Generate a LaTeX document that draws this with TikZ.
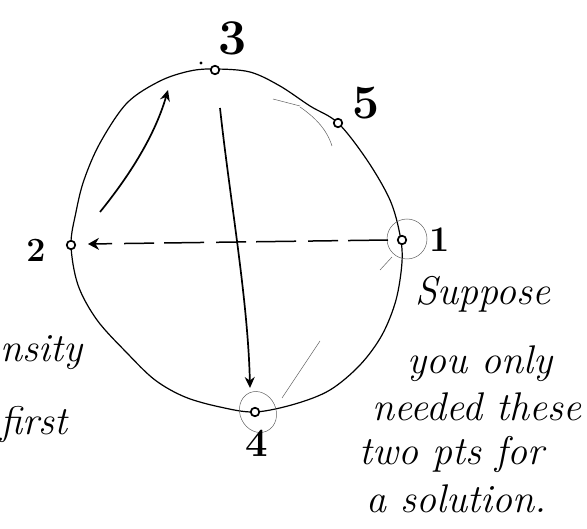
\documentclass[tikz,border=0pt]{standalone}
\usepackage{fontspec}
\setmainfont{Latin Modern Roman}
\usetikzlibrary{arrows.meta}
\begin{document}
\begin{tikzpicture}[x=1pt,y=-1pt,
  outline/.style={line width=1.2pt,line join=round},
  pt/.style={circle,draw,line width=1.7pt,fill=white,inner sep=0pt,minimum size=8.5pt},
  ring/.style={draw,line width=0.5pt,gray!75!black},
  faint/.style={line width=0.5pt,gray!75!black},
  arr/.style={line width=1.7pt,-{Stealth[length=11pt,width=10pt]}},
  hand/.style={font=\fontsize{40}{46}\selectfont\itshape,inner sep=0pt},
  num/.style={font=\fontsize{40}{46}\selectfont\bfseries,inner sep=0pt}]
\useasboundingbox (0,0) rectangle (587,529);
% outline curve
\draw[outline] plot[smooth cycle,tension=0.55] coordinates {
  (215,69) (250,72) (280,86) (310,106) (338,123) (367,160) (390,200)
  (400,235) (402,262) (396,300) (382,335) (360,365) (330,390)
  (295,404) (255,412) (220,407) (185,397) (155,380) (127,353)
  (97,320) (78,285) (71,245) (76,212) (84,180) (100,143) (127,103)
  (160,81) (190,71)};
% faint strokes near 5
\draw[faint] (273,99) -- (300,106);
\draw[faint] (300,107) .. controls (316,118) and (327,130) .. (332,146);
% points
\node[pt] (p3) at (215,70) {};
\node[pt] (p5) at (338,123) {};
\node[pt] (p1) at (402,240) {};
\node[pt] (p2) at (71,245) {};
\node[pt] (p4) at (255,412) {};
\fill (201,63) circle (1.7pt);
% rings
\draw[ring] (407,239) circle (20);
\draw[ring,rotate around={25:(258,412)}] (258,412) ellipse (18 and 21);
\coordinate (r1) at (392,257);
\coordinate (r1e) at (380,270);
\draw[faint] (r1) -- (r1e);
\coordinate (r4) at (282,398);
\coordinate (r4e) at (320,341);
\draw[faint] (r4) -- (r4e);
% arrows
\coordinate (a2s) at (100,212);
\coordinate (a2e) at (168,90);
\draw[arr] (a2s) .. controls (130,175) and (155,135) .. (a2e);
\coordinate (v1) at (220,108);
\coordinate (v2) at (250,388);
\draw[arr] (v1) .. controls (230,200) and (248,300) .. (v2);
\coordinate (d1) at (388,240);
\coordinate (d2) at (88,244);
\draw[line width=1.5pt,dash pattern=on 40pt off 10pt on 30pt off 12pt,-{Stealth[length=11pt,width=12pt]}] (d1) -- (d2);
% labels
\node[num,font=\fontsize{50}{56}\selectfont\bfseries] (l3) at (233,38) {3};
\node[num,font=\fontsize{48}{54}\selectfont\bfseries] (l5) at (366,103) {5};
\node[num,font=\fontsize{34}{40}\selectfont\bfseries] (l2) at (36,250) {2};
\node[num,font=\fontsize{36}{40}\selectfont\bfseries] (l1) at (440,240) {1};
\node[num,font=\fontsize{40}{46}\selectfont\bfseries] (l4) at (257,443) {4};
% texts
\node[hand,anchor=base] (t1) at (483,305) {Suppose};
\node[hand,anchor=base] (t2) at (480,374) {you only};
\node[hand,anchor=base] (t3) at (477,421) {needed these};
\node[hand,anchor=base] (t4) at (452,465) {two pts for};
\node[hand,anchor=base] (t5) at (456,512) {a solution.};
\node[hand,anchor=base west] (s1) at (0,362) {nsity};
\node[hand,anchor=base west] (s2) at (0,435) {first};
\end{tikzpicture}
\end{document}
